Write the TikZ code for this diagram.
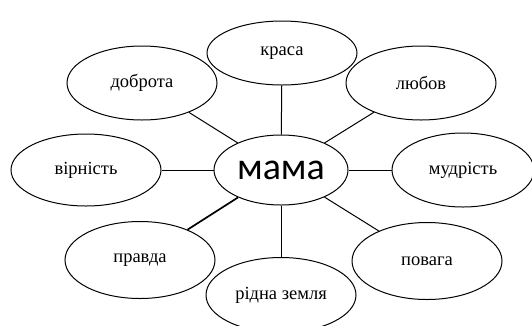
\documentclass[tikz,border=0pt]{standalone}
\usepackage{fontspec}
\setmainfont{Liberation Serif}
\newfontfamily\mamafont{Carlito}
\usetikzlibrary{shapes.geometric}
\tikzstyle{word}=[draw,ellipse,line width=1pt,minimum width=150pt,minimum height=74pt,inner sep=0pt,font=\fontsize{18.5}{20}\selectfont]
\tikzstyle{link}=[line width=1pt]
\begin{document}
\begin{tikzpicture}[x=1pt,y=-1pt]
      \useasboundingbox (0,0) rectangle (532,325);
      \node [word, minimum width=134pt, minimum height=70pt, font=\mamafont\fontsize{38}{40}\selectfont] (M) at (281,170) {мама};
      \node [word, minimum height=64pt] (K) at (282,53) {краса};
      \node [word] (D) at (142,83) {доброта};
      \node [word] (L) at (421,83) {любов};
      \node [word, minimum height=72pt] (V) at (86,170) {вірність};
      \node [word, minimum width=142pt] (U) at (463,170) {мудрість};
      \node [word, minimum height=77pt] (P) at (140,260) {правда};
      \node [word, minimum height=75pt] (R) at (281,295) {рідна земля};
      \node [word, minimum height=77pt] (O) at (427,261) {повага};

      \path [link] (M) edge (K)
                       edge (D)
                       edge (L)
                       edge (V)
                       edge (U)
                       edge (R)
                       edge (O)
                       edge [line width=1.7pt] (P);
    \end{tikzpicture}
\end{document}
